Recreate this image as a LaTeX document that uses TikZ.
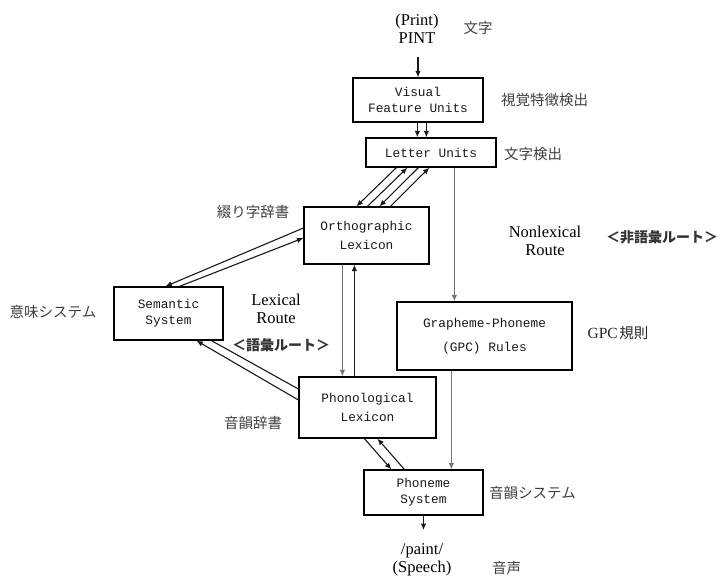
\documentclass[tikz,border=0pt]{standalone}
\usepackage{fontspec}
\setmainfont{Liberation Serif}
\newfontfamily\jpfont{Noto Sans CJK JP}
\newfontfamily\boxfont{Liberation Mono}
\usetikzlibrary{arrows.meta,calc}
\begin{document}
\begin{tikzpicture}[x=1pt,y=-1pt,
  box/.style={draw, line width=1.2pt, inner sep=0pt, align=center,
    font=\boxfont\fontsize{12.8}{16}\selectfont, text=black!90},
  serif/.style={inner sep=0pt, align=center, font=\fontsize{16.5}{18}\selectfont, text=black},
  jp/.style={inner sep=0pt, font=\jpfont\fontsize{14.5}{16}\selectfont, text=black!75},
  jpb/.style={inner sep=0pt, font=\jpfont\bfseries\fontsize{14}{16}\selectfont, text=black!80},
  arr/.style={-{Latex[length=6.5pt,width=5.5pt]}, line width=1.1pt, black!90},
  garr/.style={-{Latex[length=6.5pt,width=5.5pt]}, line width=1.3pt, black!55},
  ln/.style={line width=1.1pt, black!90}
]
\useasboundingbox[fill=white] (0,0) rectangle (724,576);

% boxes
\node[box, minimum width=130pt, minimum height=44pt] (vf) at (418,100) {Visual\\Feature Units};
\node[box, minimum width=130pt, minimum height=29pt] (lu) at (431,152.5) {Letter Units};
\node[box, minimum width=125pt, minimum height=57pt] (ol) at (366.5,235.5) {Orthographic\\[3pt]Lexicon};
\node[box, minimum width=109pt, minimum height=53pt] (ss) at (168.5,313.5) {Semantic\\System};
\node[box, minimum width=175pt, minimum height=68pt] (gpc) at (484.5,336) {Grapheme-Phoneme\\[8pt](GPC) Rules};
\node[box, minimum width=137pt, minimum height=61pt] (pl) at (367.5,407.5) {Phonological\\[3pt]Lexicon};
\node[box, minimum width=119pt, minimum height=45pt] (pm) at (423.5,492.5) {Phoneme\\System};

% serif texts
\node[serif] (pr) at (417,29) {(Print)\\PINT};
\node[serif] (lex) at (276,309) {Lexical\\Route};
\node[serif] (nlex) at (545,241) {Nonlexical\\Route};
\node[serif] (sp) at (422,559.5) {/paint/\\(Speech)};

% japanese labels
\node[jp] (jmoji) at (478,28) {文字};
\node[jp, anchor=west] (jvf) at (501,100) {視覚特徴検出};
\node[jp, anchor=west] (jlu) at (504,154) {文字検出};
\node[jp] (jol) at (253,212) {綴り字辞書};
\node[jp] (jss) at (53,312) {意味システム};
\node[jpb] (jlex) at (281,345) {＜語彙ルート＞};
\node[jpb] (jnlex) at (662,237) {＜非語彙ルート＞};
\node[inner sep=0pt, text=black!85] (jgpc) at (618,333) {{\fontsize{15.5}{16}\selectfont GPC}\,{\jpfont\fontsize{14.5}{16}\selectfont 規則}};
\node[jp] (jpl) at (253,423) {音韻辞書};
\node[jp, anchor=west] (jpm) at (489,493) {音韻システム};
\node[jp, anchor=west] (jsp) at (492,568) {音声};

% connectors
\draw[arr] ([yshift=-13pt]pr.south -| vf.north) -- (vf.north);
\draw[arr] ([xshift=65pt]vf.south west) -- ([xshift=65pt]vf.south west |- lu.north);
\draw[arr] ([xshift=74pt]vf.south west) -- ([xshift=74pt]vf.south west |- lu.north);

\draw[arr] ([xshift=31pt]lu.south west) -- ([xshift=53pt]ol.north west);
\draw[arr] ([xshift=64pt]ol.north west) -- ([xshift=42pt]lu.south west);
\draw[arr] ([xshift=53pt]lu.south west) -- ([xshift=76pt]ol.north west);
\draw[arr] ([xshift=87pt]ol.north west) -- ([xshift=64pt]lu.south west);

\draw[garr] ([xshift=89pt]lu.south west) -- ([xshift=89pt]lu.south west |- gpc.north);

\draw[garr] ([xshift=39pt]ol.south west) -- ([xshift=39pt]ol.south west |- pl.north);
\draw[arr] ([xshift=51pt]ol.south west |- pl.north) -- ([xshift=51pt]ol.south west);

\draw[arr] ([yshift=7.5pt]ol.west) -- ([xshift=52pt]ss.north west);
\draw[arr] ([xshift=66pt]ss.north west) -- ([yshift=-2.5pt]ol.west);

\draw[arr] ([yshift=7.5pt]pl.west) -- ([xshift=83pt]ss.south west);
\draw[ln] ([xshift=98pt]ss.south west) -- ([yshift=18.5pt]pl.west);

\draw[arr] ([xshift=66pt]pl.south west) -- ([xshift=28pt]pm.north west);
\draw[arr] ([xshift=41pt]pm.north west) -- ([xshift=79pt]pl.south west);

\draw[garr] ([xshift=55pt]gpc.south west) -- ([xshift=55pt]gpc.south west |- pm.north);
\draw[arr] (pm.south) -- ([yshift=13pt]pm.south |- sp.north);
\end{tikzpicture}
\end{document}
